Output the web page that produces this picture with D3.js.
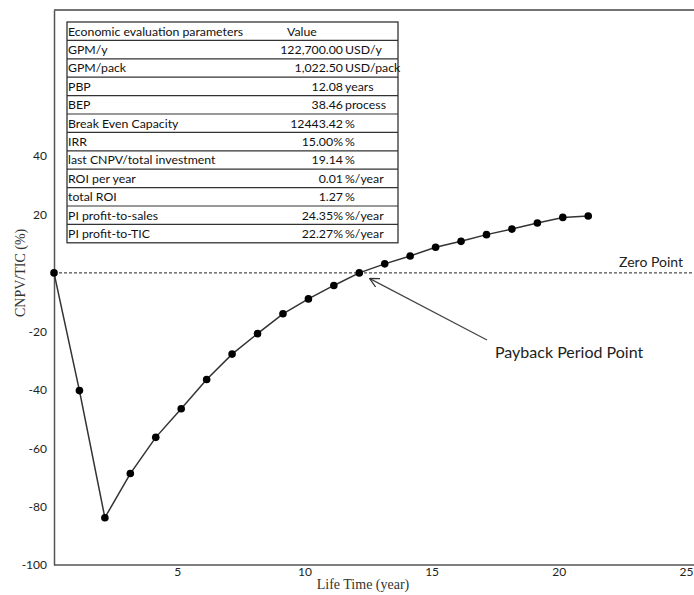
<!DOCTYPE html>
<html>
<head>
<meta charset="utf-8">
<script src="https://cdn.jsdelivr.net/npm/d3@7"></script>
<style>
  body { margin: 0; background: #fff; }
  svg { display: block; }
</style>
</head>
<body>
<div id="chart"></div>
<script>
// series
const years = [0, 1, 2, 3, 4, 5, 6, 7, 8, 9, 10, 11, 12, 13, 14, 15, 16, 17, 18, 19, 20, 21];
const cnpvTic = [0, -40.3, -83.8, -68.7, -56.3, -46.5, -36.5, -27.8, -20.8, -14.0, -8.9, -4.3,
  0, 3.1, 5.8, 8.8, 10.8, 13.1, 15.0, 17.1, 19.0, 19.5];

const xTicks = [5, 10, 15, 20, 25];
const yTicks = [-100, -80, -60, -40, -20, 20, 40];
const paybackYear = 12.08;

// table
const tableHeader = ["Economic evaluation parameters", "Value"];
const params = ["GPM/y", "GPM/pack", "PBP", "BEP", "Break Even Capacity", "IRR",
  "last CNPV/total investment", "ROI per year", "total ROI", "PI profit-to-sales", "PI profit-to-TIC"];
const values = ["122,700.00", "1,022.50", "12.08", "38.46", "12443.42", "15.00%",
  "19.14", "0.01", "1.27", "24.35%", "22.27%"];
const units = ["USD/y", "USD/pack", "years", "process", "%", "%",
  "%", "%/year", "%", "%/year", "%/year"];

const width = 694, height = 595;
const margin = { top: 10, right: 0, bottom: 30, left: 54 };

const svg = d3.select("#chart").append("svg")
  .attr("width", width)
  .attr("height", height);

const x = d3.scaleLinear().domain([0, 25]).range([margin.left, 690]);
const y = d3.scaleLinear().domain([-100, 90]).range([height - margin.bottom, margin.top]);

const tickFont = "Lato, 'Open Sans', sans-serif";
const serif = "'Liberation Serif', 'DejaVu Serif', serif";

// plot frame: top border
svg.append("line")
  .attr("x1", margin.left).attr("x2", width)
  .attr("y1", margin.top).attr("y2", margin.top)
  .attr("stroke", "#444").attr("stroke-width", 1.5);

// axes
const xAxis = svg.append("g")
  .attr("transform", `translate(0,${y(-100)})`)
  .call(d3.axisBottom(x).tickValues(xTicks).tickSize(0).tickPadding(2));
xAxis.select(".domain").attr("stroke", "#555").attr("stroke-width", 1.5)
  .attr("d", `M${margin.left},0H${width}`);
xAxis.selectAll("text")
  .attr("font-family", tickFont).attr("font-size", 12).attr("fill", "#222")
  .attr("dx", -4);

const yAxis = svg.append("g")
  .attr("transform", `translate(${margin.left},0)`)
  .call(d3.axisLeft(y).tickValues(yTicks).tickSize(0).tickPadding(7)
    .tickFormat((d) => String(d)));
yAxis.select(".domain").attr("stroke", "#555").attr("stroke-width", 1.5);
yAxis.selectAll("text")
  .attr("font-family", tickFont).attr("font-size", 12).attr("fill", "#222");

// axis titles
svg.append("text")
  .attr("x", 363).attr("y", 589)
  .attr("text-anchor", "middle")
  .attr("font-family", serif).attr("font-size", 14).attr("fill", "#333")
  .text("Life Time (year)");

svg.append("text")
  .attr("transform", `translate(20,${y(0)}) rotate(-90)`)
  .attr("text-anchor", "middle")
  .attr("dy", "0.35em")
  .attr("font-family", serif).attr("font-size", 14).attr("fill", "#333")
  .text("CNPV/TIC (%)");

// zero line
svg.append("line")
  .attr("x1", margin.left).attr("x2", width)
  .attr("y1", y(0)).attr("y2", y(0))
  .attr("stroke", "#222").attr("stroke-width", 1)
  .attr("stroke-dasharray", "3,2");

svg.append("text")
  .attr("x", 683).attr("y", y(0) - 6)
  .attr("text-anchor", "end")
  .attr("font-family", tickFont).attr("font-size", 14).attr("fill", "#222")
  .text("Zero Point");

// series line + markers
const points = years.map((yr, i) => ({ yr, v: cnpvTic[i] }));

svg.append("path")
  .datum(points)
  .attr("fill", "none")
  .attr("stroke", "#333")
  .attr("stroke-width", 1.5)
  .attr("d", d3.line().x((d) => x(d.yr)).y((d) => y(d.v)));

svg.append("g")
  .selectAll("circle")
  .data(points)
  .join("circle")
  .attr("cx", (d) => x(d.yr))
  .attr("cy", (d) => y(d.v))
  .attr("r", 3.8)
  .attr("fill", "#000");

// payback annotation
svg.append("defs").append("marker")
  .attr("id", "arrow")
  .attr("viewBox", "0 0 10 10")
  .attr("refX", 9).attr("refY", 5)
  .attr("markerWidth", 10).attr("markerHeight", 10)
  .attr("markerUnits", "userSpaceOnUse")
  .attr("orient", "auto-start-reverse")
  .append("path")
  .attr("d", "M0,0L10,5L0,10")
  .attr("fill", "none")
  .attr("stroke", "#333")
  .attr("stroke-width", 1.2);

svg.append("line")
  .attr("x1", x(paybackYear) + 9).attr("y1", y(0) + 6)
  .attr("x2", 487).attr("y2", 340)
  .attr("stroke", "#444").attr("stroke-width", 1.2)
  .attr("marker-start", "url(#arrow)");

svg.append("text")
  .attr("x", 495).attr("y", 358)
  .attr("font-family", tickFont).attr("font-size", 16).attr("fill", "#222")
  .text("Payback Period Point");

// parameter table
const tbl = { x0: 67, x1: 398, top: 22, rowH: 18.4 };
const rows = [[tableHeader[0], tableHeader[1], ""]]
  .concat(params.map((p, i) => [p, values[i], units[i]]));

const table = svg.append("g");
table.append("rect")
  .attr("x", tbl.x0).attr("y", tbl.top)
  .attr("width", tbl.x1 - tbl.x0).attr("height", rows.length * tbl.rowH)
  .attr("fill", "#fff").attr("stroke", "#333").attr("stroke-width", 1.3);

table.selectAll("line.row")
  .data(d3.range(1, rows.length))
  .join("line")
  .attr("class", "row")
  .attr("x1", tbl.x0).attr("x2", tbl.x1)
  .attr("y1", (i) => tbl.top + i * tbl.rowH)
  .attr("y2", (i) => tbl.top + i * tbl.rowH)
  .attr("stroke", "#333").attr("stroke-width", 1.2);

const row = table.selectAll("g.r")
  .data(rows)
  .join("g")
  .attr("class", "r")
  .attr("transform", (d, i) => `translate(0,${tbl.top + i * tbl.rowH + 13.5})`)
  .attr("font-family", tickFont).attr("font-size", 12.3).attr("fill", "#111");

row.append("text").attr("x", tbl.x0 + 1).text((d) => d[0]);
row.append("text")
  .attr("x", (d, i) => (i === 0 ? 287 : 343))
  .attr("text-anchor", (d, i) => (i === 0 ? "start" : "end"))
  .text((d) => d[1]);
row.append("text").attr("x", 345).text((d) => d[2]);
</script>
</body>
</html>
